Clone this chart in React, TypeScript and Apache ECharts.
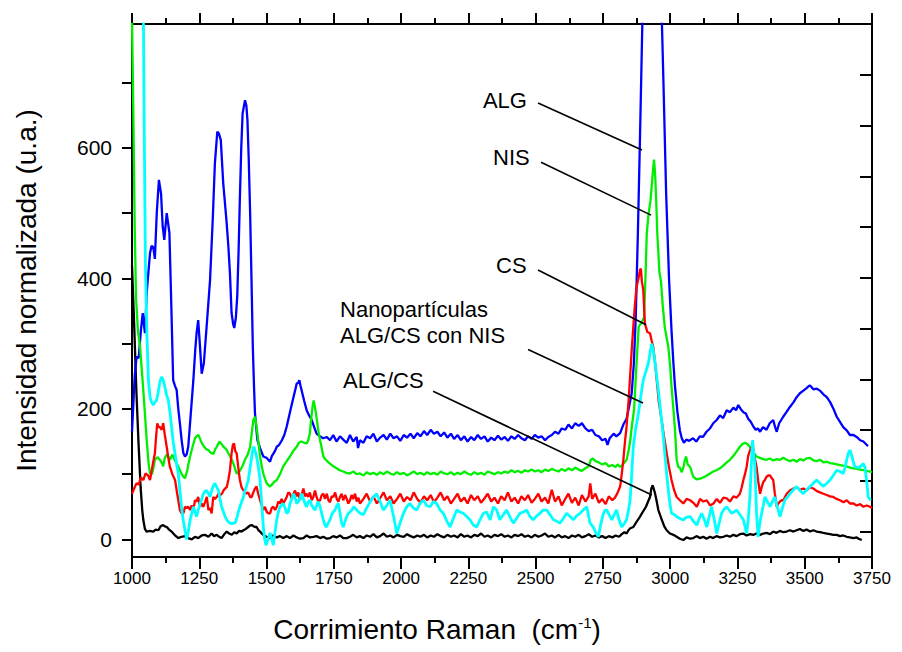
import React, { useEffect, useRef } from "react";
import * as echarts from "echarts";

type Pt = [number, number];

// Raman shift axis (cm-1)
const xMin = 1000;
const xMax = 3750;
const xStep = 250;

// Left intensity axis
const yMin = -27;
const yMax = 790;
const yLabelValues = [0, 200, 400, 600];
const yTickValues = [0, 100, 200, 300, 400, 500, 600, 700];

// ALG
const alg: Pt[] = [
  [1000,165],[1010,250],[1017,280],[1025,278],[1033,320],[1040,347],[1048,316],[1055,380],[1067,439],[1073,450],[1079,448],[1085,430],[1092,500],[1100,551],[1108,530],[1114,480],[1120,459],[1129,500],[1134,485],[1139,470],[1146,360],[1153,244],[1160,235],[1166,229],[1172,200],[1178,178],[1185,150],[1191,132],[1197,127],[1203,130],[1209,142],[1218,190],[1228,244],[1235,290],[1240,316],[1246,336],[1252,300],[1259,254],[1267,270],[1278,330],[1290,397],[1300,490],[1308,576],[1317,625],[1323,622],[1330,612],[1339,546],[1351,489],[1358,450],[1364,408],[1370,347],[1376,330],[1380,324],[1386,340],[1391,372],[1396,440],[1401,525],[1406,600],[1411,653],[1420,673],[1425,665],[1429,643],[1434,580],[1439,500],[1444,400],[1449,295],[1453,240],[1457,193],[1462,170],[1466,152],[1476,140],[1488,127],[1500,125],[1513,119],[1520,128],[1525,131],[1532,136],[1538,142],[1547,145],[1557,152],[1566,160],[1575,173],[1587,195],[1600,218],[1606,228],[1612,239],[1618,240],[1622,244],[1626,236],[1630,229],[1640,212],[1649,198],[1658,190],[1668,183],[1677,172],[1686,162],[1698,158],[1711,155],[1724,157],[1736,152],[1748,160],[1760,150],[1773,158],[1785,153],[1798,148],[1810,160],[1822,150],[1835,157],[1840,140],[1847,152],[1860,148],[1872,158],[1885,155],[1897,162],[1910,150],[1922,156],[1935,160],[1947,153],[1960,162],[1972,155],[1985,158],[1997,151],[2010,160],[2022,156],[2035,162],[2047,155],[2060,163],[2072,158],[2085,166],[2097,160],[2110,168],[2122,162],[2135,165],[2147,158],[2160,164],[2172,156],[2185,162],[2197,154],[2210,160],[2222,152],[2235,158],[2247,150],[2260,157],[2272,152],[2285,160],[2297,154],[2310,158],[2322,150],[2335,156],[2347,152],[2360,159],[2372,153],[2385,157],[2397,151],[2410,158],[2422,154],[2435,160],[2447,155],[2460,152],[2472,158],[2485,154],[2497,160],[2510,156],[2522,158],[2535,152],[2547,157],[2560,160],[2572,165],[2585,162],[2597,170],[2610,168],[2622,176],[2635,170],[2647,178],[2660,174],[2672,178],[2685,170],[2697,166],[2710,168],[2722,160],[2735,158],[2747,152],[2760,154],[2767,145],[2775,155],[2790,162],[2800,158],[2814,163],[2826,176],[2838,185],[2847,203],[2857,224],[2865,270],[2872,340],[2880,470],[2888,620],[2896,780],[2905,950],[2920,1100],[2940,1120],[2955,1000],[2965,860],[2975,700],[2985,530],[2996,397],[3005,320],[3012,270],[3018,234],[3027,195],[3036,167],[3043,155],[3051,148],[3060,153],[3070,151],[3085,155],[3097,150],[3110,158],[3122,157],[3135,165],[3148,170],[3160,178],[3173,183],[3185,190],[3197,186],[3210,198],[3222,195],[3235,202],[3245,198],[3253,206],[3262,200],[3272,195],[3281,193],[3290,185],[3300,180],[3309,173],[3318,168],[3326,170],[3334,165],[3345,172],[3358,168],[3370,178],[3383,183],[3390,172],[3396,165],[3405,178],[3420,188],[3432,195],[3445,203],[3458,210],[3470,218],[3482,224],[3495,228],[3507,232],[3515,235],[3520,236],[3532,230],[3545,231],[3557,228],[3570,222],[3582,218],[3595,210],[3607,200],[3619,188],[3631,180],[3643,172],[3656,167],[3668,160],[3681,160],[3693,157],[3706,152],[3718,150],[3730,145],[3735,143],
];

// NIS
const nis: Pt[] = [
  [1000,800],[1005,650],[1010,480],[1015,370],[1022,320],[1030,295],[1040,240],[1048,193],[1055,150],[1062,115],[1067,101],[1074,100],[1080,110],[1085,122],[1094,126],[1104,122],[1110,118],[1116,112],[1122,125],[1131,131],[1136,126],[1141,122],[1150,130],[1158,122],[1166,116],[1172,112],[1178,106],[1185,100],[1191,96],[1197,94],[1205,105],[1210,116],[1216,127],[1225,142],[1234,155],[1240,158],[1247,160],[1253,154],[1259,148],[1268,142],[1276,138],[1284,137],[1292,133],[1303,131],[1309,138],[1315,142],[1320,146],[1325,150],[1333,146],[1340,142],[1346,140],[1352,137],[1358,132],[1365,127],[1371,122],[1377,116],[1383,108],[1389,101],[1396,103],[1402,106],[1410,112],[1420,122],[1430,130],[1439,142],[1445,163],[1451,183],[1457,188],[1461,178],[1466,163],[1471,145],[1476,127],[1482,112],[1488,101],[1495,92],[1501,86],[1507,83],[1513,81],[1520,84],[1528,88],[1538,91],[1550,100],[1562,112],[1575,120],[1587,127],[1600,136],[1612,142],[1620,148],[1630,150],[1640,148],[1649,147],[1655,152],[1661,163],[1666,185],[1671,203],[1675,213],[1679,205],[1683,195],[1688,180],[1693,165],[1699,152],[1705,140],[1711,127],[1720,122],[1730,118],[1736,116],[1748,112],[1760,109],[1772,106],[1785,104],[1797,102],[1810,101],[1822,104],[1835,100],[1847,101],[1860,98],[1872,103],[1885,100],[1897,102],[1910,99],[1922,103],[1935,100],[1947,104],[1960,101],[1972,99],[1985,103],[1997,100],[2010,102],[2022,98],[2035,101],[2047,104],[2060,100],[2072,102],[2085,99],[2097,103],[2110,100],[2122,102],[2135,99],[2147,104],[2160,101],[2172,100],[2185,103],[2197,99],[2210,102],[2222,100],[2235,104],[2247,101],[2260,99],[2272,103],[2285,100],[2297,102],[2310,99],[2322,104],[2335,102],[2347,100],[2360,103],[2372,101],[2385,104],[2397,102],[2410,106],[2422,103],[2435,105],[2447,102],[2460,106],[2472,104],[2485,107],[2497,104],[2510,106],[2522,103],[2535,107],[2547,105],[2560,108],[2572,106],[2585,104],[2597,108],[2610,105],[2622,109],[2635,106],[2647,110],[2660,107],[2672,105],[2685,109],[2697,112],[2705,122],[2713,124],[2722,120],[2735,118],[2747,115],[2760,117],[2772,112],[2785,114],[2797,111],[2805,115],[2814,111],[2822,114],[2830,118],[2838,122],[2845,135],[2851,150],[2858,175],[2866,200],[2875,270],[2883,326],[2893,332],[2903,340],[2908,400],[2913,469],[2920,500],[2927,520],[2935,560],[2940,582],[2944,560],[2948,520],[2952,470],[2956,440],[2960,410],[2966,395],[2972,360],[2980,325],[2993,295],[3000,265],[3005,234],[3012,200],[3018,167],[3024,122],[3030,111],[3036,110],[3043,103],[3049,110],[3055,122],[3059,127],[3065,115],[3074,111],[3086,96],[3098,92],[3111,93],[3123,95],[3136,98],[3148,101],[3160,104],[3172,106],[3185,109],[3197,113],[3210,118],[3222,122],[3235,128],[3247,135],[3259,142],[3268,146],[3278,148],[3287,146],[3296,142],[3309,133],[3321,127],[3333,125],[3346,123],[3358,122],[3370,124],[3383,121],[3396,123],[3408,122],[3420,125],[3433,122],[3445,120],[3458,122],[3470,119],[3482,123],[3495,121],[3507,124],[3520,125],[3532,121],[3545,120],[3557,122],[3570,118],[3582,119],[3595,117],[3607,116],[3619,115],[3631,114],[3643,113],[3656,112],[3668,110],[3681,109],[3693,108],[3706,107],[3718,106],[3730,105],[3743,104],[3750,103],
];

// CS
const cs: Pt[] = [
  [1000,70],[1010,80],[1017,86],[1025,84],[1033,95],[1042,91],[1050,101],[1060,98],[1067,91],[1075,110],[1085,132],[1090,160],[1094,178],[1099,172],[1104,172],[1110,168],[1116,178],[1122,160],[1129,142],[1135,125],[1141,111],[1150,100],[1160,91],[1168,70],[1178,45],[1184,40],[1191,40],[1197,50],[1203,48],[1209,50],[1216,45],[1222,52],[1228,45],[1234,60],[1240,58],[1246,65],[1253,50],[1259,55],[1265,50],[1272,58],[1278,65],[1284,45],[1290,48],[1296,40],[1302,65],[1308,62],[1315,65],[1321,70],[1327,68],[1334,70],[1340,75],[1346,78],[1352,80],[1358,91],[1364,106],[1370,132],[1375,145],[1379,147],[1384,135],[1389,132],[1395,110],[1401,91],[1407,80],[1414,75],[1420,73],[1426,70],[1432,72],[1439,65],[1445,65],[1451,72],[1457,78],[1463,81],[1469,70],[1476,60],[1482,52],[1488,45],[1494,50],[1501,42],[1507,40],[1513,40],[1519,48],[1525,50],[1532,45],[1538,50],[1544,58],[1550,55],[1556,62],[1562,55],[1569,60],[1575,65],[1581,72],[1587,70],[1594,62],[1600,70],[1606,75],[1612,66],[1618,72],[1624,60],[1630,68],[1637,78],[1643,66],[1649,70],[1655,65],[1661,72],[1668,60],[1674,65],[1680,75],[1686,65],[1692,58],[1699,60],[1705,68],[1711,70],[1717,62],[1724,70],[1730,60],[1736,57],[1742,66],[1748,65],[1755,72],[1761,62],[1767,58],[1773,65],[1779,70],[1785,60],[1792,68],[1798,62],[1804,55],[1810,60],[1816,68],[1822,62],[1829,70],[1835,58],[1841,64],[1847,55],[1860,62],[1872,70],[1885,58],[1897,66],[1910,55],[1922,63],[1935,72],[1947,60],[1960,66],[1972,55],[1985,62],[1997,70],[2010,58],[2022,65],[2035,60],[2047,72],[2060,62],[2072,56],[2085,66],[2097,60],[2110,68],[2122,57],[2135,64],[2147,72],[2160,60],[2172,66],[2185,55],[2197,62],[2210,70],[2222,58],[2235,64],[2247,55],[2260,68],[2272,60],[2285,66],[2297,56],[2310,63],[2322,70],[2335,58],[2347,64],[2360,55],[2372,66],[2385,60],[2397,72],[2410,58],[2422,64],[2435,55],[2447,66],[2460,60],[2472,68],[2485,56],[2497,62],[2510,70],[2522,58],[2535,64],[2547,55],[2560,76],[2572,58],[2585,66],[2597,52],[2610,62],[2622,70],[2635,56],[2647,64],[2660,52],[2672,68],[2685,58],[2697,66],[2703,86],[2710,62],[2722,70],[2735,56],[2747,62],[2760,54],[2772,66],[2785,60],[2795,64],[2805,72],[2814,81],[2820,100],[2826,122],[2832,150],[2838,173],[2845,210],[2851,249],[2857,290],[2863,326],[2869,360],[2875,387],[2882,400],[2888,413],[2891,415],[2895,395],[2900,382],[2906,331],[2915,318],[2925,316],[2931,305],[2937,295],[2944,270],[2950,244],[2958,210],[2968,183],[2977,158],[2987,132],[2996,110],[3005,91],[3015,75],[3024,65],[3036,60],[3049,55],[3061,62],[3074,60],[3086,56],[3099,50],[3111,62],[3123,58],[3136,60],[3148,52],[3161,55],[3173,62],[3185,56],[3198,64],[3210,63],[3222,58],[3235,66],[3247,64],[3259,70],[3266,80],[3272,91],[3278,100],[3284,111],[3290,128],[3297,137],[3303,142],[3308,140],[3314,125],[3321,111],[3327,90],[3334,70],[3340,80],[3346,88],[3352,91],[3358,96],[3365,98],[3371,98],[3377,94],[3383,91],[3389,70],[3396,50],[3402,55],[3408,58],[3415,60],[3421,60],[3433,70],[3445,75],[3458,78],[3470,80],[3482,76],[3495,78],[3507,75],[3520,80],[3532,78],[3545,74],[3557,72],[3569,70],[3582,68],[3594,66],[3606,65],[3619,62],[3631,60],[3644,57],[3656,60],[3668,55],[3681,55],[3693,52],[3706,54],[3718,50],[3730,52],[3743,50],[3750,48],
];

// Nanopartículas ALG/CS con NIS
const nano: Pt[] = [
  [1030,1400],[1040,950],[1045,650],[1050,420],[1055,320],[1061,244],[1067,218],[1073,210],[1079,206],[1085,210],[1091,213],[1097,225],[1104,242],[1110,249],[1116,244],[1122,234],[1128,222],[1135,213],[1141,195],[1147,173],[1153,150],[1160,131],[1166,115],[1172,101],[1178,75],[1184,50],[1190,30],[1197,14],[1203,0],[1209,12],[1216,30],[1222,40],[1228,50],[1234,42],[1240,35],[1246,45],[1253,55],[1259,62],[1265,70],[1272,74],[1278,75],[1284,70],[1290,65],[1296,75],[1302,82],[1308,86],[1315,80],[1321,75],[1327,62],[1333,50],[1340,42],[1346,35],[1352,30],[1358,27],[1364,25],[1371,24],[1377,25],[1383,25],[1389,32],[1395,42],[1401,50],[1408,58],[1414,65],[1420,75],[1426,82],[1432,91],[1439,110],[1445,127],[1449,138],[1453,142],[1458,135],[1463,127],[1470,110],[1476,91],[1482,55],[1488,19],[1493,0],[1498,-9],[1505,0],[1513,10],[1519,2],[1525,-9],[1531,10],[1538,30],[1544,42],[1550,50],[1556,53],[1562,55],[1569,48],[1575,40],[1581,42],[1587,55],[1594,62],[1600,70],[1606,64],[1612,55],[1618,58],[1624,62],[1630,70],[1637,62],[1643,55],[1649,50],[1655,58],[1661,60],[1668,52],[1674,48],[1680,45],[1686,52],[1692,58],[1699,50],[1705,40],[1711,30],[1717,22],[1723,19],[1729,25],[1736,30],[1742,38],[1748,42],[1755,45],[1761,52],[1767,55],[1773,40],[1779,25],[1785,19],[1792,28],[1798,35],[1804,40],[1810,42],[1817,45],[1823,50],[1829,48],[1835,45],[1847,40],[1860,38],[1872,48],[1885,58],[1897,65],[1909,70],[1922,58],[1934,45],[1947,52],[1959,60],[1972,35],[1984,9],[1996,25],[2009,40],[2021,50],[2033,55],[2046,48],[2058,45],[2070,55],[2083,60],[2095,52],[2108,50],[2120,58],[2132,55],[2145,45],[2157,40],[2170,28],[2182,19],[2194,32],[2207,45],[2219,42],[2231,40],[2244,35],[2256,30],[2268,22],[2281,19],[2293,30],[2306,40],[2318,42],[2331,30],[2343,50],[2355,45],[2367,30],[2380,38],[2392,45],[2404,35],[2417,25],[2429,32],[2442,40],[2454,42],[2467,45],[2479,35],[2491,30],[2504,36],[2516,40],[2528,45],[2541,45],[2553,38],[2566,30],[2578,28],[2590,25],[2603,32],[2615,40],[2628,35],[2640,30],[2652,36],[2665,40],[2677,45],[2690,50],[2702,25],[2714,19],[2724,10],[2733,4],[2743,25],[2752,40],[2758,45],[2764,45],[2773,38],[2783,30],[2792,38],[2801,45],[2810,30],[2820,19],[2829,24],[2838,30],[2845,45],[2851,60],[2857,100],[2863,142],[2872,170],[2882,193],[2891,220],[2900,244],[2910,258],[2919,270],[2925,285],[2931,300],[2937,290],[2944,270],[2950,250],[2956,229],[2962,206],[2968,183],[2975,155],[2981,127],[2987,100],[2993,76],[2999,55],[3005,40],[3015,38],[3024,35],[3036,32],[3049,30],[3061,34],[3074,35],[3086,28],[3099,22],[3108,32],[3117,40],[3127,30],[3136,19],[3145,35],[3154,50],[3164,30],[3173,9],[3182,25],[3191,40],[3200,46],[3210,50],[3219,45],[3228,40],[3237,42],[3247,45],[3259,38],[3272,30],[3278,20],[3284,9],[3290,30],[3297,70],[3301,110],[3306,152],[3311,130],[3315,111],[3318,75],[3321,40],[3324,20],[3327,4],[3333,25],[3340,40],[3346,52],[3352,65],[3361,58],[3371,50],[3380,58],[3389,65],[3398,50],[3408,35],[3417,48],[3426,60],[3436,65],[3445,70],[3458,76],[3470,81],[3482,75],[3495,70],[3507,76],[3520,81],[3532,86],[3544,91],[3557,86],[3569,81],[3582,86],[3594,91],[3606,98],[3619,106],[3631,104],[3643,101],[3650,110],[3656,122],[3662,132],[3668,137],[3675,128],[3681,118],[3687,111],[3697,110],[3706,111],[3712,114],[3718,116],[3724,110],[3730,90],[3736,65],[3745,60],
];

// ALG/CS
const algcs: Pt[] = [
  [1000,420],[1008,330],[1016,230],[1024,150],[1032,80],[1038,45],[1042,30],[1048,16],[1054,12],[1066,13],[1079,12],[1088,15],[1098,14],[1106,20],[1116,22],[1122,20],[1129,19],[1138,15],[1147,12],[1160,6],[1172,2],[1184,4],[1197,5],[1209,2],[1222,0],[1234,4],[1246,2],[1259,6],[1271,7],[1284,4],[1296,9],[1305,5],[1315,7],[1324,4],[1333,2],[1343,8],[1352,12],[1361,9],[1371,7],[1380,11],[1389,9],[1398,13],[1407,12],[1414,14],[1423,16],[1432,19],[1438,21],[1445,22],[1452,20],[1458,19],[1463,19],[1470,14],[1476,12],[1482,9],[1491,6],[1500,4],[1513,2],[1525,6],[1538,3],[1550,5],[1562,2],[1575,5],[1587,2],[1600,6],[1612,3],[1624,1],[1637,2],[1649,6],[1661,3],[1674,4],[1686,5],[1699,2],[1711,4],[1724,1],[1736,2],[1748,5],[1760,3],[1773,6],[1785,2],[1798,2],[1810,4],[1822,7],[1835,3],[1847,5],[1860,2],[1872,6],[1885,4],[1897,8],[1910,3],[1922,5],[1935,9],[1947,4],[1960,6],[1972,3],[1985,7],[1997,5],[2010,4],[2022,8],[2035,5],[2047,3],[2060,6],[2072,4],[2085,7],[2097,3],[2110,6],[2122,4],[2135,8],[2147,5],[2160,3],[2172,7],[2185,4],[2197,6],[2210,3],[2222,8],[2235,4],[2247,6],[2260,3],[2272,7],[2285,5],[2297,9],[2310,4],[2322,6],[2335,3],[2347,7],[2360,5],[2372,8],[2385,4],[2397,6],[2410,3],[2422,7],[2435,5],[2447,8],[2460,4],[2472,6],[2485,3],[2497,7],[2510,4],[2522,6],[2535,9],[2547,4],[2560,6],[2572,3],[2585,7],[2597,3],[2610,5],[2622,2],[2635,6],[2647,4],[2660,7],[2672,3],[2685,5],[2697,8],[2710,4],[2722,6],[2735,3],[2747,5],[2760,2],[2772,5],[2785,3],[2797,6],[2810,4],[2820,8],[2830,11],[2838,9],[2845,14],[2852,17],[2863,19],[2875,27],[2888,35],[2898,42],[2910,50],[2918,58],[2925,65],[2930,78],[2935,83],[2940,76],[2944,70],[2950,58],[2956,45],[2962,38],[2969,30],[2978,20],[2987,14],[2999,9],[3012,7],[3024,4],[3036,1],[3049,-1],[3061,3],[3074,1],[3086,2],[3098,5],[3111,2],[3123,4],[3135,1],[3148,4],[3160,2],[3172,5],[3185,3],[3198,4],[3210,6],[3222,4],[3235,7],[3247,5],[3259,8],[3272,9],[3284,6],[3297,8],[3309,7],[3321,9],[3334,7],[3346,9],[3358,10],[3371,8],[3383,12],[3395,10],[3408,13],[3420,11],[3433,12],[3445,14],[3458,12],[3470,14],[3482,16],[3495,13],[3507,15],[3520,12],[3532,14],[3544,12],[3557,11],[3569,10],[3582,9],[3594,8],[3606,7],[3619,7],[3631,5],[3643,6],[3656,4],[3668,3],[3681,2],[3693,3],[3700,1],[3712,-1],
];

// Leader labels, positioned in data units: text anchor (left, middle), line start, line end
const labels: { text: string; at: Pt; from: Pt; to: Pt }[] = [
  { text: "ALG", at: [2304, 673], from: [2509, 669], to: [2895, 597] },
  { text: "NIS", at: [2342, 585], from: [2520, 578], to: [2929, 497] },
  { text: "CS", at: [2353, 420], from: [2509, 413], to: [2910, 329] },
  { text: "Nanopartículas\nALG/CS con NIS", at: [1773, 332], from: [2472, 291], to: [2899, 209] },
  { text: "ALG/CS", at: [1784, 243], from: [2119, 227], to: [2932, 68] },
];

const FONT = "'Liberation Sans', Arial, Helvetica, sans-serif";
const AXIS_LINE = { show: true, onZero: false, lineStyle: { color: "#000", width: 2 } };

export default function App() {
  const ref = useRef<HTMLDivElement>(null);

  useEffect(() => {
    if (!ref.current) return;
    const chart = echarts.init(ref.current, null, { renderer: "svg" });

    const line = (name: string, data: Pt[], color: string, width = 2.3) => ({
      name,
      type: "line",
      data,
      showSymbol: false,
      symbol: "none",
      clip: true,
      lineStyle: { color, width },
      itemStyle: { color },
      z: 2,
    });

    chart.setOption({
      animation: false,
      backgroundColor: "#fff",
      textStyle: { fontFamily: FONT },
      grid: { left: 132, top: 24, right: 30, bottom: 95, containLabel: false },
      xAxis: [
        {
          type: "value",
          position: "bottom",
          min: xMin,
          max: xMax,
          interval: xStep,
          axisLine: AXIS_LINE,
          axisTick: { show: true, inside: false, length: 12, lineStyle: { color: "#000", width: 2 } },
          minorTick: { show: true, splitNumber: 2, length: 6, lineStyle: { color: "#000", width: 2 } },
          splitLine: { show: false },
          minorSplitLine: { show: false },
          axisLabel: {
            color: "#000",
            fontSize: 17,
            fontFamily: FONT,
            margin: 13,
            formatter: (v: number) => String(v),
          },
          name: "Corrimiento Raman  (cm{sup|-1})",
          nameLocation: "middle",
          nameGap: 58,
          nameTextStyle: {
            color: "#000",
            fontSize: 28,
            fontFamily: FONT,
            padding: [0, 130, 0, 0],
            rich: { sup: { fontSize: 15, verticalAlign: "top", color: "#000", fontFamily: FONT, padding: [0, 0, 10, 0] } },
          },
        },
        {
          type: "value",
          position: "top",
          min: xMin,
          max: xMax,
          interval: xStep,
          axisLine: AXIS_LINE,
          axisTick: { show: true, inside: false, length: 11, lineStyle: { color: "#000", width: 2 } },
          minorTick: { show: true, splitNumber: 2, length: 6, lineStyle: { color: "#000", width: 2 } },
          splitLine: { show: false },
          axisLabel: { show: false },
        },
      ],
      yAxis: [
        {
          type: "value",
          position: "left",
          min: yMin,
          max: yMax,
          axisLine: AXIS_LINE,
          axisTick: { show: true, inside: false, length: 10, customValues: yTickValues, lineStyle: { color: "#000", width: 2 } },
          splitLine: { show: false },
          axisLabel: { color: "#000", fontSize: 21, fontFamily: FONT, margin: 20, customValues: yLabelValues },
          name: "Intensidad normalizada (u.a.)",
          nameLocation: "middle",
          nameGap: 92,
          nameTextStyle: { color: "#000", fontSize: 28, fontFamily: FONT },
        },
        {
          type: "value",
          position: "right",
          inverse: true,
          min: 0,
          max: 10.5,
          interval: 1,
          axisLine: AXIS_LINE,
          axisTick: { show: true, inside: true, length: 12, lineStyle: { color: "#000", width: 2 } },
          splitLine: { show: false },
          axisLabel: { show: false },
        },
      ],
      series: [
        line("ALG/CS", algcs, "#000000"),
        line("ALG", alg, "#0000ff"),
        line("NIS", nis, "#00ee00"),
        line("CS", cs, "#ff0000"),
        line("Nanopartículas ALG/CS con NIS", nano, "#00ffff", 2.8),
      ],
    });

    const toPx = (p: Pt) => chart.convertToPixel({ xAxisIndex: 0, yAxisIndex: 0 }, p) as number[];
    const graphic: any[] = [];
    labels.forEach((l) => {
      const a = toPx(l.at);
      const f = toPx(l.from);
      const t = toPx(l.to);
      graphic.push({
        type: "text",
        x: a[0],
        y: a[1],
        z: 10,
        style: {
          text: l.text,
          fill: "#000",
          font: `22px ${FONT}`,
          lineHeight: 26,
          align: "left",
          verticalAlign: "middle",
        },
      });
      graphic.push({
        type: "line",
        z: 10,
        shape: { x1: f[0], y1: f[1], x2: t[0], y2: t[1] },
        style: { stroke: "#000", lineWidth: 1.6 },
      });
    });
    chart.setOption({ graphic });

    return () => chart.dispose();
  }, []);

  return (
    <div
      ref={ref}
      style={{ position: "fixed", left: 0, top: 0, width: 902, height: 652, background: "#fff" }}
    />
  );
}
